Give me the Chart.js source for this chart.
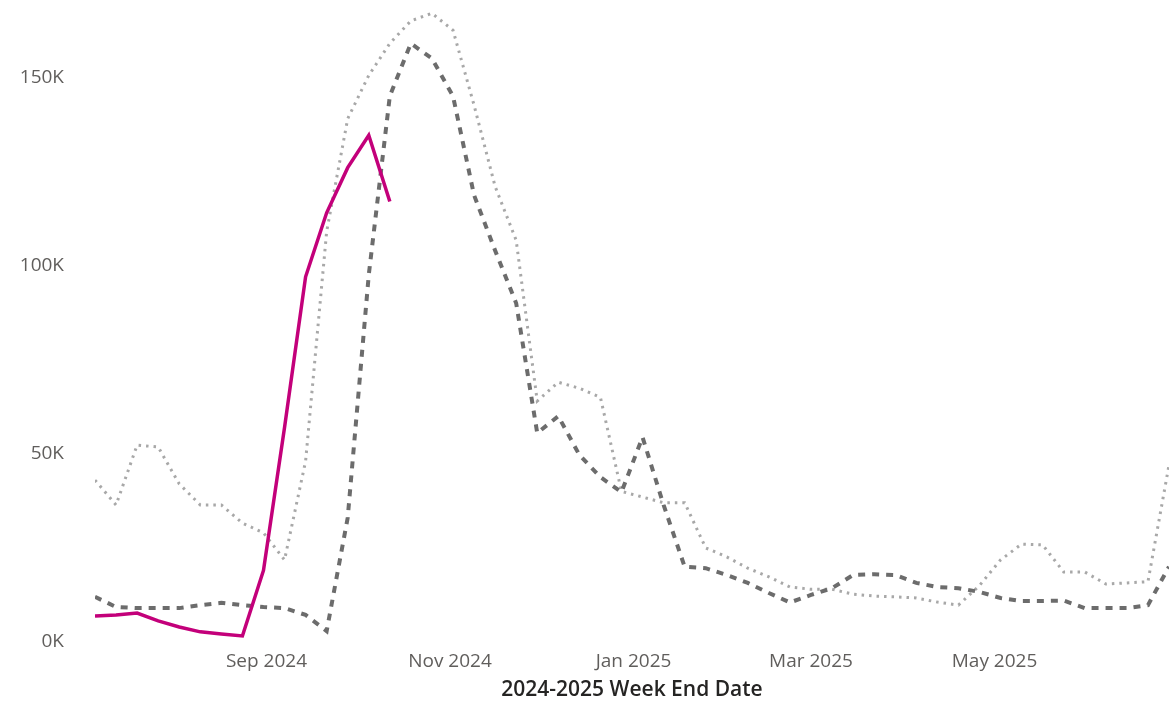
<!DOCTYPE html>
<html>
<head>
<meta charset="utf-8">
<script src="https://cdn.jsdelivr.net/npm/chart.js@4/dist/chart.umd.min.js"></script>
<style>
  html, body { margin: 0; padding: 0; background: #ffffff; }
  #wrap { width: 1169px; height: 703px; position: relative; }
</style>
</head>
<body>
<div id="wrap"><canvas id="c" width="1169" height="703"></canvas></div>
<script>
// Week end dates (Saturdays), 2024-2025 season
const weekEnds = [
  "2024-07-06","2024-07-13","2024-07-20","2024-07-27","2024-08-03","2024-08-10","2024-08-17","2024-08-24",
  "2024-08-31","2024-09-07","2024-09-14","2024-09-21","2024-09-28","2024-10-05","2024-10-12","2024-10-19",
  "2024-10-26","2024-11-02","2024-11-09","2024-11-16","2024-11-23","2024-11-30","2024-12-07","2024-12-14",
  "2024-12-21","2024-12-28","2025-01-04","2025-01-11","2025-01-18","2025-01-25","2025-02-01","2025-02-08",
  "2025-02-15","2025-02-22","2025-03-01","2025-03-08","2025-03-15","2025-03-22","2025-03-29","2025-04-05",
  "2025-04-12","2025-04-19","2025-04-26","2025-05-03","2025-05-10","2025-05-17","2025-05-24","2025-05-31",
  "2025-06-07","2025-06-14","2025-06-21","2025-06-28"
];

// Current season (solid magenta)
const currentSeason = [6900,7200,7700,5600,4000,2700,2100,1600,19000,57000,97000,114000,126000,134600,117000];

// Prior season (dark dashed)
const priorSeasonDashed = [
  12000,9300,9000,9000,9000,9800,10400,9800,9300,9000,7200,2900,33000,97500,145000,159000,
  155000,145000,118700,104000,90000,55500,60000,49700,43800,39800,54400,36400,20000,19600,17800,15700,
  13000,10500,12500,14300,17800,18000,17800,15700,14600,14300,13300,11700,10900,10900,11000,9000,
  9000,9000,9800,20000
];

// Earlier season (light dotted)
const priorSeasonDotted = [
  43000,36400,52300,51800,42000,36400,36400,31600,29000,21800,48000,109000,139000,150500,159000,165000,
  167000,162500,142600,121000,106700,64000,69000,67400,65000,40000,38500,37000,37000,25000,22600,19600,
  17300,14600,14000,14000,12700,12200,12000,11700,10600,9800,15000,21800,26000,25800,18600,18600,
  15400,15700,16000,47000
];

// Axis tick labels
const xTickDates = ["2024-09-01","2024-11-01","2025-01-01","2025-03-01","2025-05-01"];
const xTickLabels = ["Sep 2024","Nov 2024","Jan 2025","Mar 2025","May 2025"];
const yTickValues = [0, 50000, 100000, 150000];
const yTickLabels = ["0K","50K","100K","150K"];
const xAxisTitle = "2024-2025 Week End Date";

// ---- build ----
const DAY = 86400000;
const origin = Date.parse(weekEnds[0] + "T00:00:00Z");
const dayOf = s => Math.round((Date.parse(s + "T00:00:00Z") - origin) / DAY);
const xs = weekEnds.map(dayOf);
const toPts = arr => arr.map((v, i) => ({ x: xs[i], y: v }));
const xTickPos = xTickDates.map(dayOf);

const tickColor = "#605E5C";
const fontFamily = "'Open Sans', 'Noto Sans', sans-serif";

new Chart(document.getElementById("c"), {
  type: "line",
  data: {
    datasets: [
      {
        label: "Earlier season",
        data: toPts(priorSeasonDotted),
        borderColor: "#A8A8A8",
        borderWidth: 3,
        borderDash: [2.5, 5],
        pointRadius: 0,
        fill: false,
        tension: 0,
        order: 3
      },
      {
        label: "Prior season",
        data: toPts(priorSeasonDashed),
        borderColor: "#6C6C6C",
        borderWidth: 4,
        borderDash: [7, 7],
        pointRadius: 0,
        fill: false,
        tension: 0,
        order: 2
      },
      {
        label: "Current season",
        data: toPts(currentSeason),
        borderColor: "#C3007A",
        borderWidth: 3.5,
        pointRadius: 0,
        fill: false,
        tension: 0,
        order: 1
      }
    ]
  },
  options: {
    responsive: false,
    animation: false,
    devicePixelRatio: 1,
    layout: { padding: { top: 2, right: 0, bottom: 0, left: 0 } },
    plugins: { legend: { display: false }, tooltip: { enabled: false } },
    scales: {
      x: {
        type: "linear",
        min: xs[0],
        max: xs[xs.length - 1],
        grid: { display: false, drawTicks: false, tickLength: 0 },
        border: { display: false },
        afterBuildTicks: s => { s.ticks = xTickPos.map(v => ({ value: v })); },
        afterFit: s => { s.height = 61; s.paddingLeft = 0; s.paddingRight = 0; },
        ticks: {
          autoSkip: false,
          maxRotation: 0,
          padding: 8,
          color: tickColor,
          font: { family: fontFamily, size: 19 },
          callback: (v) => { const k = xTickPos.indexOf(v); return k >= 0 ? xTickLabels[k] : ""; }
        },
        title: {
          display: true,
          text: xAxisTitle,
          color: "#252423",
          font: { family: fontFamily, size: 21, weight: "600" },
          padding: { top: 0, bottom: 0 }
        }
      },
      y: {
        min: 0,
        max: 170000,
        grid: { display: false, drawTicks: false, tickLength: 0 },
        border: { display: false },
        afterBuildTicks: s => { s.ticks = yTickValues.map(v => ({ value: v })); },
        afterFit: s => { s.width = 95; s.paddingTop = 0; s.paddingBottom = 0; },
        ticks: {
          padding: 31,
          color: tickColor,
          font: { family: fontFamily, size: 19 },
          callback: (v) => { const k = yTickValues.indexOf(v); return k >= 0 ? yTickLabels[k] : ""; }
        }
      }
    }
  }
});
</script>
</body>
</html>
